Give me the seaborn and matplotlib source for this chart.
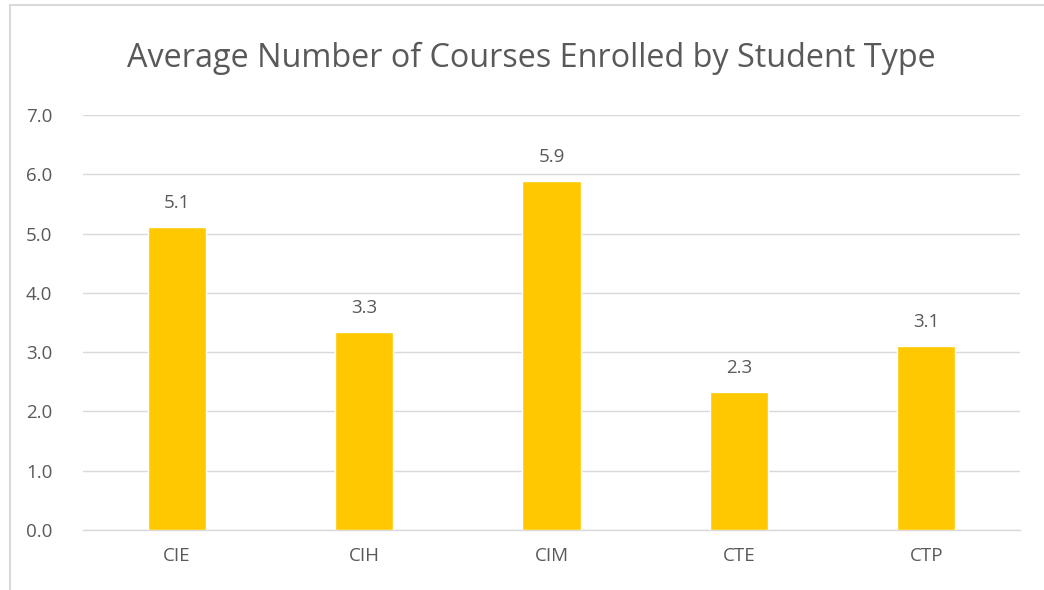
import numpy as np
import pandas as pd
import matplotlib
matplotlib.use("Agg")
import matplotlib.pyplot as plt
import seaborn as sns
from matplotlib.patches import Rectangle

# data
student_types = ["CIE", "CIH", "CIM", "CTE", "CTP"]
avg_courses = [5.11, 3.34, 5.89, 2.33, 3.10]
value_labels = ["5.1", "3.3", "5.9", "2.3", "3.1"]

df = pd.DataFrame({"Type": student_types, "Courses": avg_courses})

sns.set_theme(style="white")
plt.rcParams["font.family"] = ["Open Sans", "DejaVu Sans"]

text_gray = "#595959"
grid_gray = "#D9D9D9"

fig = plt.figure(figsize=(10.44, 5.9), dpi=100)
ax = fig.add_axes([83 / 1044, 1 - 530 / 590, (1020 - 83) / 1044, (530 - 115) / 590])

# chart frame
fig.patches.append(Rectangle((10 / 1044, -0.1), 1.2, 1 - 5 / 590 + 0.1,
                             transform=fig.transFigure, fill=False,
                             edgecolor=grid_gray, linewidth=1.5))

sns.barplot(data=df, x="Type", y="Courses", color="#FFC800",
            width=0.31, saturation=1, ax=ax, zorder=3)

ax.set_ylim(0, 7)
ax.set_xlim(-0.5, 4.5)
ax.set_yticks(np.arange(0, 8, 1))
ax.set_yticklabels([f"{v:.1f}" for v in np.arange(0, 8, 1)])
ax.yaxis.grid(True, color=grid_gray, linewidth=1, zorder=0)
ax.xaxis.grid(False)
for s in ["top", "right", "left"]:
    ax.spines[s].set_visible(False)
ax.spines["bottom"].set_color(grid_gray)
ax.spines["bottom"].set_linewidth(1)
ax.tick_params(axis="both", length=0, labelsize=13.5, colors=text_gray)
ax.tick_params(axis="y", pad=22)
ax.tick_params(axis="x", pad=12)
ax.set_xlabel("")
ax.set_ylabel("")

for i, (v, lab) in enumerate(zip(avg_courses, value_labels)):
    ax.annotate(lab, (i, v), xytext=(0, 11), textcoords="offset points",
                ha="center", va="bottom", fontsize=13.5, color=text_gray)

fig.text(531 / 1044, 1 - 58 / 590, "Average Number of Courses Enrolled by Student Type",
         ha="center", va="center", fontsize=23.3, color=text_gray)

fig.savefig("out.png", dpi=100)
